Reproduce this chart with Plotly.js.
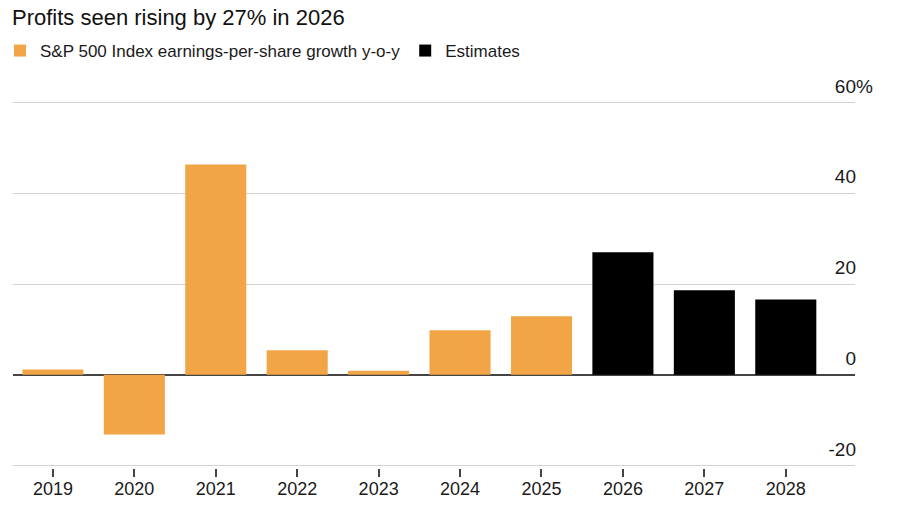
<!DOCTYPE html>
<html>
<head>
<meta charset="utf-8">
<script src="https://cdn.plot.ly/plotly-3.0.1.min.js"></script>
<style>html,body{margin:0;padding:0;background:#fff;}#chart{width:900px;height:510px;}</style>
</head>
<body>
<div id="chart"></div>
<script>
const actualYears = ['2019','2020','2021','2022','2023','2024','2025'];
const actualGrowth = [1.2, -13.1, 46.3, 5.4, 0.9, 9.8, 12.9];
const estimateYears = ['2026','2027','2028'];
const estimateGrowth = [27.0, 18.6, 16.6];
const allYears = actualYears.concat(estimateYears);
const yTickVals = [-20, 0, 20, 40, 60];
const yTickText = ['-20', '0', '20', '40', '60'];
const yUnit = '%';

const FONT = 'Liberation Sans, Arial, Helvetica, sans-serif';

const traces = [
  {
    type: 'bar', name: 'S&P 500 Index earnings-per-share growth y-o-y',
    x: actualYears, y: actualGrowth,
    marker: {color: '#F2A546', line: {width: 0}},
    hoverinfo: 'x+y'
  },
  {
    type: 'bar', name: 'Estimates',
    x: estimateYears, y: estimateGrowth,
    marker: {color: '#000000', line: {width: 0}},
    hoverinfo: 'x+y'
  }
];

const layout = {
  width: 900, height: 510,
  margin: {l: 13, r: 45, t: 100, b: 42, autoexpand: false},
  paper_bgcolor: '#ffffff', plot_bgcolor: '#ffffff',
  font: {family: FONT, color: '#1a1a1a', size: 17},
  barmode: 'relative', bargap: 0.25,
  title: {
    text: 'Profits seen rising by 27% in 2026',
    font: {family: FONT, size: 22, color: '#111'},
    xref: 'container', x: 12/900, xanchor: 'left',
    yref: 'container', y: 1 - 17/510, yanchor: 'middle'
  },
  showlegend: true,
  legend: {
    orientation: 'h', xref: 'container', x: -4/900, xanchor: 'left',
    yref: 'container', y: 1 - 51/510, yanchor: 'middle',
    font: {family: FONT, size: 17, color: '#1a1a1a'},
    bgcolor: 'rgba(0,0,0,0)', traceorder: 'normal'
  },
  xaxis: {
    type: 'category', categoryorder: 'array', categoryarray: allYears,
    range: [-0.49, 9.85],
    showgrid: false, zeroline: false,
    showline: false,
    ticks: 'outside', ticklen: 8, tickwidth: 1.5, tickcolor: '#444',
    ticklabelstandoff: -4,
    tickfont: {family: FONT, size: 18, color: '#1a1a1a'},
    fixedrange: true
  },
  yaxis: {
    side: 'right', range: [-20.5, 60.5],
    tickvals: yTickVals, ticktext: yTickText,
    ticklabelposition: 'inside top', ticklabeloverflow: 'allow',
    ticklabelstandoff: -4, ticklabelshift: -3,
    showgrid: true, gridcolor: '#d2d2d2', gridwidth: 1,
    zeroline: true, zerolinecolor: '#444', zerolinewidth: 2,
    showline: false, ticks: '',
    tickfont: {family: FONT, size: 19, color: '#1a1a1a'},
    fixedrange: true
  },
  annotations: [{
    text: yUnit, xref: 'paper', x: 1, xanchor: 'left', xshift: -1,
    yref: 'y', y: yTickVals[yTickVals.length - 1], yanchor: 'bottom', yshift: 3,
    showarrow: false, font: {family: FONT, size: 19, color: '#1a1a1a'}
  }]
};

Plotly.newPlot('chart', traces, layout, {displayModeBar: false});
</script>
</body>
</html>
